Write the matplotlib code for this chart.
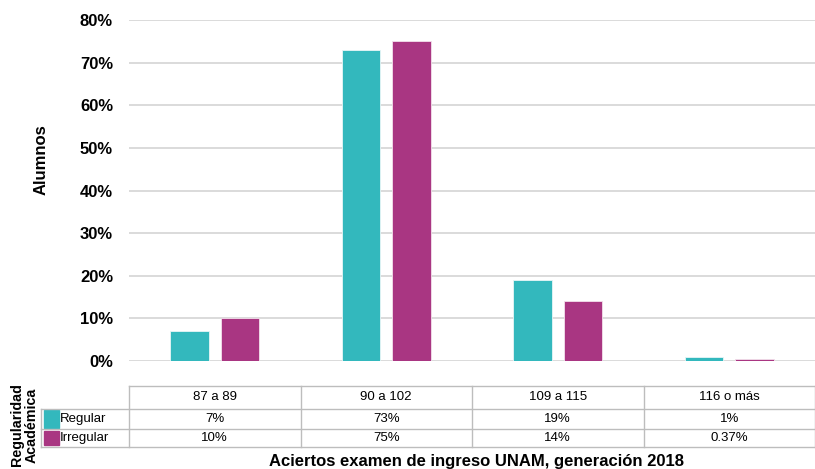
import matplotlib.pyplot as plt
from matplotlib.patches import Rectangle
from matplotlib.transforms import blended_transform_factory

plt.rcParams['font.family'] = ['Liberation Sans', 'DejaVu Sans']

# data
categories = ['87 a 89', '90 a 102', '109 a 115', '116 o más']
regular = [7, 73, 19, 1]
irregular = [10, 75, 14, 0.37]
regular_labels = ['7%', '73%', '19%', '1%']
irregular_labels = ['10%', '75%', '14%', '0.37%']
series_names = ['Regular', 'Irregular']
colors = ['#33b8bd', '#a93682']

W, H = 815, 469
fig = plt.figure(figsize=(W / 100, H / 100), dpi=100)


def fy(py):
    # pixel row (from top) -> figure fraction
    return 1 - py / H


ax = fig.add_axes([129 / W, fy(361), 1 - 129 / W, (361 - 20) / H])

x = list(range(len(categories)))
bw = 0.224
off = 0.147
ax.bar([i - off for i in x], regular, width=bw, color=colors[0],
       edgecolor='#e8f6f7', linewidth=0.6, zorder=3)
ax.bar([i + off for i in x], irregular, width=bw, color=colors[1],
       edgecolor='#f3e1ec', linewidth=0.6, zorder=3)

ax.set_xlim(-0.5, len(categories) - 0.5)
ax.set_ylim(0, 80)
ax.set_yticks(range(0, 81, 10))
ax.set_yticklabels([f'{v}%' for v in range(0, 81, 10)], fontsize=12, fontweight='bold')
ax.tick_params(axis='y', length=0, pad=11.5)
ax.set_xticks([])
ax.yaxis.grid(True, color='#d4d4d4', linewidth=1.2, zorder=0)
for s in ax.spines.values():
    s.set_visible(False)

fig.text(41 / W, fy(160), 'Alumnos', rotation=90, ha='center', va='center',
         fontsize=12, fontweight='bold')

# table under the chart
tr = blended_transform_factory(ax.transData, fig.transFigure)
line_kw = dict(color='#bdbdbd', linewidth=1, clip_on=False)
rows_px = [385.5, 408.5, 429, 446.5]
left_px = 41

# horizontal lines
ax.plot([-0.5, len(categories) - 0.5], [fy(rows_px[0])] * 2, transform=tr, **line_kw)
for r in rows_px[1:]:
    fig.add_artist(plt.Line2D([left_px / W, 1], [fy(r)] * 2, **line_kw))
# vertical lines
for i in range(len(categories) + 1):
    ax.plot([i - 0.5, i - 0.5], [fy(rows_px[0]), fy(rows_px[3])], transform=tr, **line_kw)
fig.add_artist(plt.Line2D([left_px / W] * 2, [fy(rows_px[1]), fy(rows_px[3])], **line_kw))

for i, c in enumerate(categories):
    ax.text(i, fy((rows_px[0] + rows_px[1]) / 2), c, transform=tr, ha='center',
            va='center', fontsize=9.5)
    ax.text(i, fy((rows_px[1] + rows_px[2]) / 2), regular_labels[i], transform=tr,
            ha='center', va='center', fontsize=9.5)
    ax.text(i, fy((rows_px[2] + rows_px[3]) / 2), irregular_labels[i], transform=tr,
            ha='center', va='center', fontsize=9.5)

for k, name in enumerate(series_names):
    top, bot = rows_px[k + 1], rows_px[k + 2]
    fig.add_artist(Rectangle((44 / W, fy(bot - 1.5)), 15 / W, (bot - top - 3) / H,
                             transform=fig.transFigure, color=colors[k]))
    fig.text(60 / W, fy((top + bot) / 2), name, ha='left', va='center', fontsize=9.5)

fig.text(24 / W, fy(425), 'Regularidad\nAcadémica', rotation=90, ha='center',
         va='center', fontsize=10.3, fontweight='bold', linespacing=1.05)

fig.text(477 / W, fy(461), 'Aciertos examen de ingreso UNAM, generación 2018',
         ha='center', va='center', fontsize=12, fontweight='bold')

fig.savefig('out.png', dpi=100)
